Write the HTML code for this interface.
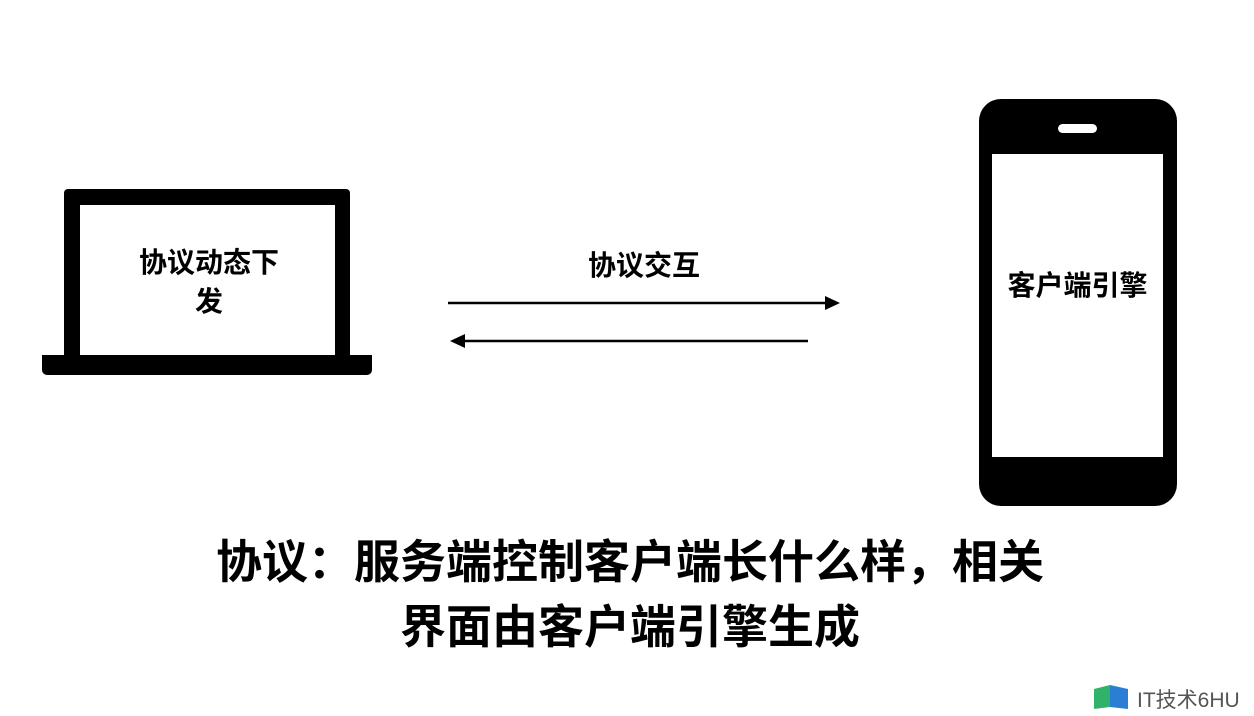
<!DOCTYPE html>
<html><head><meta charset="utf-8"><style>
body{margin:0;width:1254px;height:716px;background:#fff;position:relative;overflow:hidden;font-family:"Liberation Sans","Noto Sans CJK SC",sans-serif;}
.a{position:absolute}
.t{position:absolute;font-weight:bold;color:#000;white-space:nowrap;text-align:center}
</style></head><body>
<div class="a" style="left:64px;top:189px;width:286px;height:172px;background:#000;border-radius:4px 4px 0 0"></div>
<div class="a" style="left:80px;top:205px;width:255px;height:150px;background:#fff"></div>
<div class="a" style="left:42px;top:355px;width:330px;height:20px;background:#000;border-radius:0 0 5px 5px"></div>
<div class="t" style="left:80px;width:258px;top:243px;font-size:28px;line-height:39px">协议动态下<br>发</div>

<svg class="a" style="left:0;top:0" width="1254" height="716">
<line x1="448" y1="303" x2="828" y2="303" stroke="#000" stroke-width="2.5"/>
<polygon points="840,303 825,296 825,310" fill="#000"/>
<line x1="462" y1="341" x2="808" y2="341" stroke="#000" stroke-width="2.5"/>
<polygon points="450,341 465,334 465,348" fill="#000"/>
</svg>
<div class="t" style="left:544px;width:200px;top:244px;font-size:28px">协议交互</div>

<div class="a" style="left:979px;top:99px;width:198px;height:407px;background:#000;border-radius:22px"></div>
<div class="a" style="left:992px;top:154px;width:171px;height:303px;background:#fff"></div>
<div class="a" style="left:1058px;top:124px;width:39px;height:9px;background:#fff;border-radius:5px"></div>
<div class="t" style="left:992px;width:171px;top:264px;font-size:28px">客户端引擎</div>

<div class="t" style="left:0;width:1260px;top:530px;font-size:46px;line-height:65px">协议：服务端控制客户端长什么样，相关<br>界面由客户端引擎生成</div>

<svg class="a" style="left:1092px;top:683px" width="42" height="28">
<polygon points="2,6 18,2 18,24 2,26" fill="#2fb36b"/>
<polygon points="18,2 36,6 36,26 18,24" fill="#2a7fd4"/>
</svg>
<div class="a" style="left:1137px;top:684px;font-size:21px;color:#555">IT技术6HU</div>
</body></html>
